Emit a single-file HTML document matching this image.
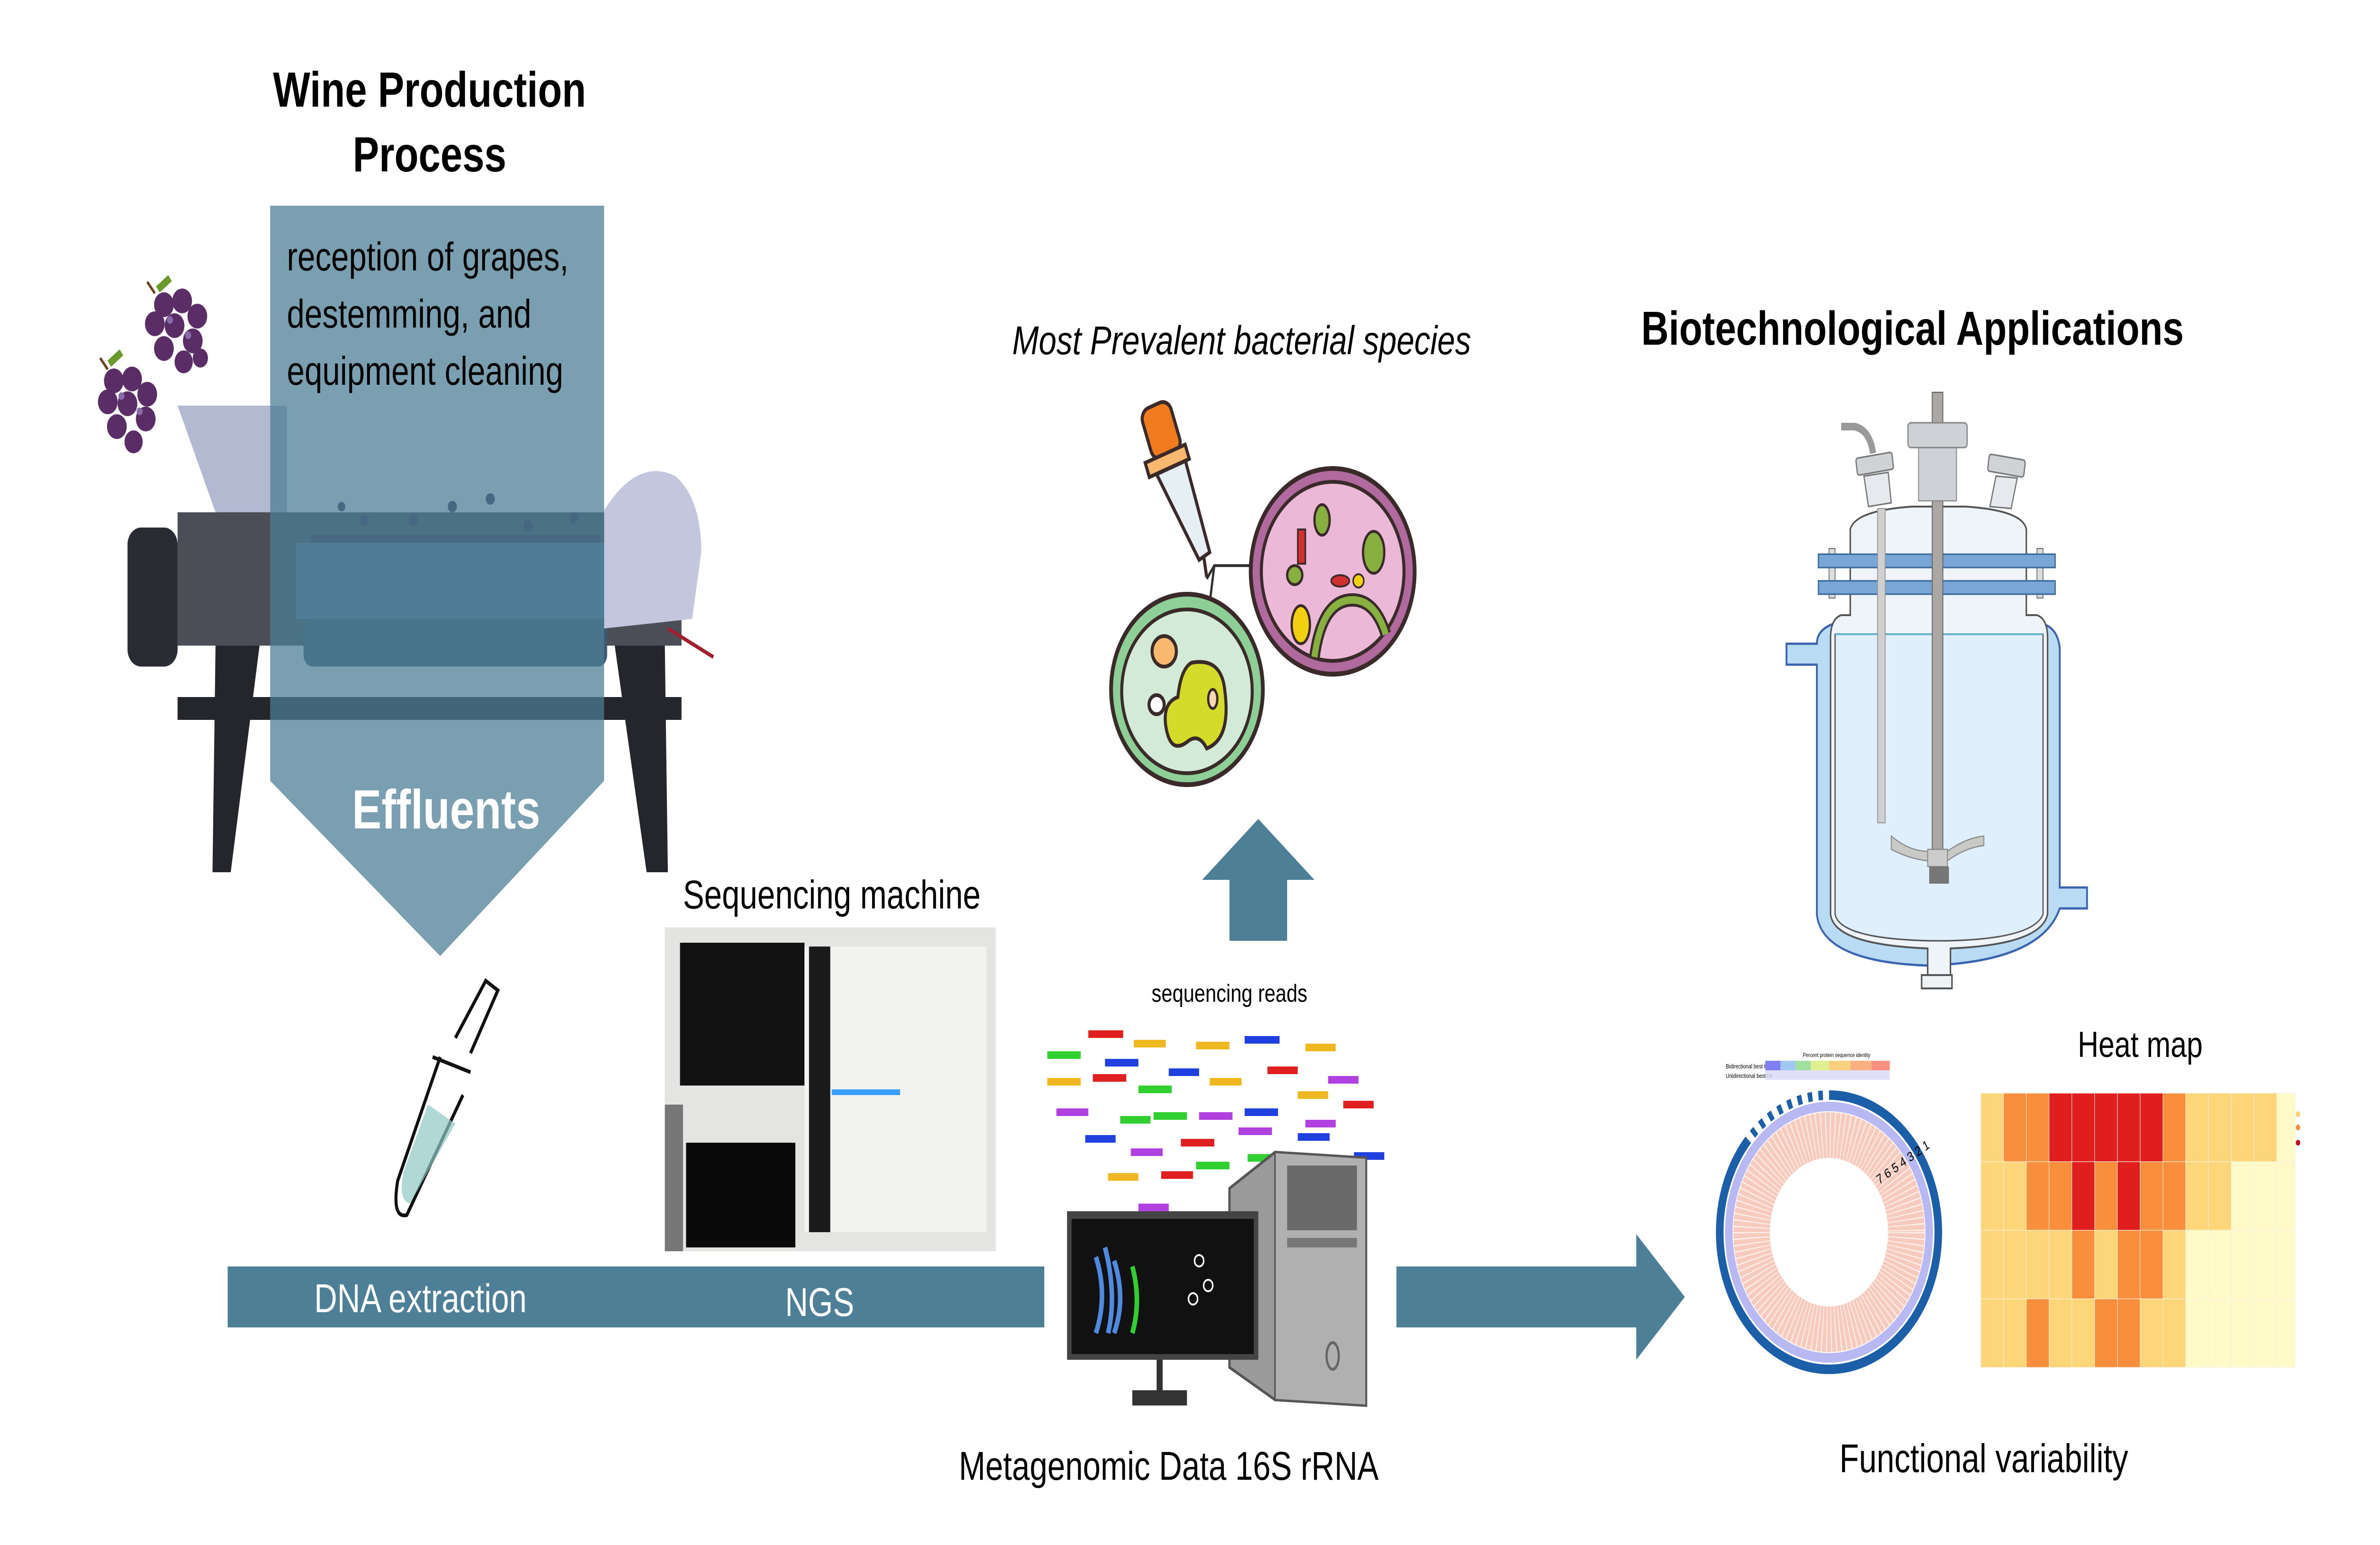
<!DOCTYPE html>
<html><head><meta charset="utf-8">
<style>
html,body{margin:0;padding:0;background:#fff;overflow:hidden;width:100%;height:100%;}
svg{display:block;position:absolute;left:0;top:0;width:100vw;height:100vh;}
text{font-family:"Liberation Sans",sans-serif;}
</style></head>
<body>
<svg viewBox="0 0 1568 811.25" preserveAspectRatio="none" xmlns="http://www.w3.org/2000/svg">
<rect width="1568" height="812" fill="#fff"/>

<!-- Wine press -->
<polygon points="117,213 189,213 189,269 142,269" fill="#b4b9d2"/>
<rect x="84" y="277" width="33" height="73" rx="9" fill="#2a2c33"/>
<rect x="117" y="269" width="332" height="70" fill="#4b4d57"/>
<rect x="195" y="285" width="205" height="40" fill="#5a7d99"/>
<rect x="200" y="325" width="200" height="25" rx="6" fill="#3e5a70"/>
<path d="M398,268 Q420,240 445,250 Q462,262 462,290 L456,325 L398,330 Z" fill="#c3c6dc"/>
<path d="M440,330 L470,345" stroke="#a02030" stroke-width="2"/>
<rect x="117" y="366" width="332" height="12" fill="#24262c"/>
<polygon points="142,339 171,339 152,458 140,458" fill="#24262c"/>
<polygon points="405,339 438,339 440,458 426,458" fill="#24262c"/>
<g fill="#3a2b50">
<circle cx="225" cy="266" r="2.5"/><circle cx="240" cy="273" r="3"/><circle cx="272" cy="273" r="3"/><circle cx="298" cy="266" r="3"/><circle cx="323" cy="262" r="3"/><circle cx="348" cy="276" r="3"/><circle cx="378" cy="272" r="3"/>
</g>
<rect x="205" y="281" width="190" height="4" fill="#3a2b50"/>

<!-- grapes -->
<g fill="#5b2d66">
<circle cx="108" cy="160" r="6.5"/><circle cx="120" cy="158" r="6.5"/><circle cx="130" cy="166" r="6.5"/><circle cx="102" cy="170" r="6.5"/><circle cx="115" cy="171" r="6.5"/><circle cx="127" cy="179" r="6.5"/><circle cx="108" cy="183" r="6.5"/><circle cx="121" cy="190" r="6"/><circle cx="132" cy="188" r="5"/>
<circle cx="75" cy="200" r="6.5"/><circle cx="87" cy="199" r="6.5"/><circle cx="97" cy="207" r="6.5"/><circle cx="71" cy="211" r="6.5"/><circle cx="84" cy="212" r="6.5"/><circle cx="96" cy="220" r="6.5"/><circle cx="77" cy="224" r="6.5"/><circle cx="88" cy="232" r="6"/>
</g>
<g fill="#8a6aa8"><circle cx="112" cy="168" r="2"/><circle cx="124" cy="176" r="2"/><circle cx="80" cy="208" r="2"/><circle cx="92" cy="216" r="2"/></g>
<path d="M104,152 l8,-6 M72,191 l8,-6" stroke="#6a9a2a" stroke-width="4"/>
<path d="M97,148 l5,6 M66,188 l5,6" stroke="#6a4020" stroke-width="1.5"/>

<!-- translucent arrow -->
<polygon points="178,108 398,108 398,410 290,502 178,410" fill="#4c7d96" fill-opacity="0.74"/>
<text x="283" y="56" font-size="26" font-weight="bold" text-anchor="middle">Wine Production</text>
<text x="283" y="90" font-size="26" font-weight="bold" text-anchor="middle">Process</text>
<text x="189" y="142" font-size="21">reception of grapes,</text>
<text x="189" y="172" font-size="21">destemming, and</text>
<text x="189" y="202" font-size="21">equipment cleaning</text>
<text x="294" y="435" font-size="29" font-weight="bold" fill="#fff" text-anchor="middle">Effluents</text>

<!-- tube -->
<g stroke="#111" stroke-width="2" fill="none">
<path d="M290,555 L262,620 Q258,640 268,638 L305,575"/>
<path d="M285,555 L310,563"/>
<path d="M300,545 L320,515 L328,520 L310,553"/>
</g>
<path d="M282,580 L300,590 L270,632 Q262,630 266,615Z" fill="#8fc8c2" opacity="0.7"/>

<!-- bottom bar -->
<rect x="150" y="665" width="538" height="32" fill="#4d7f96"/>
<text x="277" y="689" font-size="21" fill="#fff" text-anchor="middle">DNA extraction</text>
<text x="540" y="691" font-size="21" fill="#fff" text-anchor="middle">NGS</text>

<!-- sequencing machine -->
<text x="548" y="477" font-size="21" text-anchor="middle">Sequencing machine</text>
<rect x="438" y="487" width="218" height="170" fill="#e4e4e2"/>
<rect x="448" y="495" width="82" height="75" fill="#111"/>
<rect x="530" y="497" width="120" height="150" fill="#f2f2f0"/>
<rect x="533" y="497" width="14" height="150" fill="#1a1a1a"/>
<rect x="548" y="572" width="45" height="3" fill="#3aa0ff"/>
<rect x="452" y="600" width="72" height="55" fill="#0a0a0a"/>
<rect x="438" y="580" width="12" height="77" fill="#777"/>

<!-- sequencing reads -->
<text x="810" y="526" font-size="13" text-anchor="middle">sequencing reads</text>
<g stroke-width="4">
<line x1="717" y1="543" x2="740" y2="543" stroke="#e02020"/><line x1="747" y1="548" x2="768" y2="548" stroke="#f0b820"/><line x1="788" y1="549" x2="810" y2="549" stroke="#f0b820"/><line x1="820" y1="546" x2="843" y2="546" stroke="#2040e0"/><line x1="860" y1="550" x2="880" y2="550" stroke="#f0b820"/>
<line x1="690" y1="554" x2="712" y2="554" stroke="#30d030"/><line x1="728" y1="558" x2="750" y2="558" stroke="#2040e0"/><line x1="770" y1="563" x2="790" y2="563" stroke="#2040e0"/><line x1="835" y1="562" x2="855" y2="562" stroke="#e02020"/><line x1="875" y1="567" x2="895" y2="567" stroke="#b040e0"/>
<line x1="690" y1="568" x2="712" y2="568" stroke="#f0b820"/><line x1="720" y1="566" x2="742" y2="566" stroke="#e02020"/><line x1="750" y1="572" x2="772" y2="572" stroke="#30d030"/><line x1="797" y1="568" x2="818" y2="568" stroke="#f0b820"/><line x1="855" y1="575" x2="875" y2="575" stroke="#f0b820"/><line x1="885" y1="580" x2="905" y2="580" stroke="#e02020"/>
<line x1="696" y1="584" x2="717" y2="584" stroke="#b040e0"/><line x1="738" y1="588" x2="758" y2="588" stroke="#30d030"/><line x1="760" y1="586" x2="782" y2="586" stroke="#30d030"/><line x1="790" y1="586" x2="812" y2="586" stroke="#b040e0"/><line x1="820" y1="584" x2="842" y2="584" stroke="#2040e0"/><line x1="860" y1="590" x2="880" y2="590" stroke="#b040e0"/>
<line x1="715" y1="598" x2="735" y2="598" stroke="#2040e0"/><line x1="745" y1="605" x2="766" y2="605" stroke="#b040e0"/><line x1="778" y1="600" x2="800" y2="600" stroke="#e02020"/><line x1="816" y1="594" x2="838" y2="594" stroke="#b040e0"/><line x1="855" y1="597" x2="876" y2="597" stroke="#2040e0"/>
<line x1="788" y1="612" x2="810" y2="612" stroke="#30d030"/><line x1="822" y1="608" x2="844" y2="608" stroke="#30d030"/><line x1="860" y1="612" x2="882" y2="612" stroke="#30d030"/><line x1="892" y1="607" x2="912" y2="607" stroke="#2040e0"/>
<line x1="730" y1="618" x2="750" y2="618" stroke="#f0b820"/><line x1="765" y1="617" x2="786" y2="617" stroke="#e02020"/><line x1="818" y1="620" x2="840" y2="620" stroke="#e02020"/><line x1="750" y1="634" x2="770" y2="634" stroke="#b040e0"/>
</g>

<!-- computer -->
<polygon points="810,624 840,605 900,608 900,738 840,735 810,718" fill="#9a9a9a" stroke="#555" stroke-width="1.5"/>
<polygon points="840,605 900,608 900,738 840,735" fill="#b0b0b0" stroke="#555" stroke-width="1"/>
<rect x="848" y="612" width="46" height="34" fill="#6a6a6a"/>
<rect x="848" y="650" width="46" height="5" fill="#777"/>
<ellipse cx="878" cy="712" rx="4" ry="7" fill="none" stroke="#666" stroke-width="1.5"/>
<rect x="703" y="636" width="126" height="78" fill="#444"/>
<rect x="706" y="640" width="120" height="71" fill="#111"/>
<rect x="762" y="714" width="4" height="20" fill="#333"/>
<rect x="746" y="730" width="36" height="8" fill="#333"/>
<path d="M722,660 q8,20 0,40 M728,655 q8,25 2,45 M734,662 q8,20 0,38" stroke="#4f8ae0" stroke-width="3" fill="none"/>
<path d="M746,665 q6,18 0,35" stroke="#30d030" stroke-width="3" fill="none"/>
<circle cx="790" cy="662" r="3" stroke="#fff" fill="none"/><circle cx="796" cy="675" r="3" stroke="#fff" fill="none"/><circle cx="786" cy="682" r="3" stroke="#fff" fill="none"/>
<text x="770" y="777" font-size="21" text-anchor="middle">Metagenomic Data 16S rRNA</text>

<!-- right arrow -->
<rect x="920" y="665" width="160" height="32" fill="#4d7f96"/>
<polygon points="1078,648 1110,681 1078,714" fill="#4d7f96"/>

<!-- up arrow -->
<polygon points="829,430 866,462 848,462 848,494 810,494 810,462 792,462" fill="#4d7f96"/>

<!-- bacterial -->
<text x="818" y="186" font-size="21" font-style="italic" text-anchor="middle">Most Prevalent bacterial species</text>
<path d="M795,304 L800,297 L827,297" stroke="#333" stroke-width="1.5" fill="none"/>
<path d="M800,297 L790,362" stroke="#333" stroke-width="1.5"/>
<circle cx="878" cy="300" r="54" fill="#b06a9e" stroke="#3a2a2a" stroke-width="2.5"/>
<circle cx="878" cy="300" r="47" fill="#ebb8d8" stroke="#3a2a2a" stroke-width="2"/>
<path d="M866,345 q5,-30 25,-30 q15,0 22,18" stroke="#3a2a2a" stroke-width="7" fill="none"/>
<path d="M866,345 q5,-30 25,-30 q15,0 22,18" stroke="#88b040" stroke-width="4" fill="none"/>
<ellipse cx="871" cy="273" rx="5" ry="8" fill="#88b040" stroke="#3a2a2a" stroke-width="1.5"/>
<ellipse cx="905" cy="290" rx="7" ry="11" fill="#88b040" stroke="#3a2a2a" stroke-width="1.5"/>
<circle cx="853" cy="302" r="5" fill="#88b040" stroke="#3a2a2a" stroke-width="1.5"/>
<ellipse cx="857" cy="328" rx="6" ry="10" fill="#f0d010" stroke="#3a2a2a" stroke-width="1.5"/>
<rect x="855" y="278" width="5" height="18" fill="#d03030" stroke="#3a2a2a" stroke-width="1"/>
<ellipse cx="883" cy="305" rx="6" ry="3" fill="#d03030" stroke="#3a2a2a" stroke-width="1"/>
<circle cx="895" cy="305" r="3.5" fill="#f0d010" stroke="#3a2a2a" stroke-width="1"/>
<circle cx="782" cy="362" r="50" fill="#8ecf98" stroke="#3a2a2a" stroke-width="2.5"/>
<circle cx="782" cy="363" r="43" fill="#d3ead6" stroke="#3a2a2a" stroke-width="2"/>
<path d="M785,348 q20,-3 22,15 q4,25 -12,30 q-5,-8 -12,-4 q-12,8 -15,-8 q-2,-12 8,-15 q2,-15 9,-18Z" fill="#d4dc2a" stroke="#3a2a2a" stroke-width="2"/>
<circle cx="767" cy="342" r="8" fill="#f8b870" stroke="#3a2a2a" stroke-width="2"/>
<circle cx="762" cy="370" r="5" fill="#fff" stroke="#3a2a2a" stroke-width="2"/>
<ellipse cx="799" cy="367" rx="3" ry="5" fill="#f8d8b0" stroke="#3a2a2a" stroke-width="1.5"/>
<g stroke="#3a2a2a" stroke-width="2">
<rect x="755" y="212" width="20" height="28" rx="6" fill="#f07a1e" transform="rotate(-20 765 226)"/>
<rect x="755" y="238" width="28" height="8" fill="#f8b870" transform="rotate(-20 769 242)"/>
<polygon points="762,249 781,242 797,290 790,294" fill="#e6f0f4"/>
<line x1="793" y1="292" x2="795" y2="303"/>
</g>

<!-- bioreactor -->
<text x="1260" y="181" font-size="25" font-weight="bold" text-anchor="middle">Biotechnological Applications</text>
<path d="M1197,338 L1177,338 L1177,349 L1197,349 L1197,480 Q1200,505 1270,507 Q1345,505 1357,477 L1375,477 L1375,466 L1357,466 L1357,340 Q1355,327 1340,327 L1210,327 Q1197,330 1197,338Z" fill="#b9dbf3" stroke="#3a64b0" stroke-width="1.2"/>
<path d="M1219,323 L1219,278 Q1222,268 1260,266 L1295,266 Q1333,268 1335,278 L1335,323 L1342,323 Q1349,325 1349,335 L1349,480 Q1345,496 1285,498 L1285,512 L1270,512 L1270,498 Q1208,496 1206,480 L1206,335 Q1206,325 1213,323Z" fill="#eef4f8" stroke="#555" stroke-width="1"/>
<path d="M1209,333 L1346,333 L1346,480 Q1340,493 1283,494 L1272,494 Q1212,493 1209,480Z" fill="#dff0fc" stroke="#555" stroke-width="0.8"/>
<line x1="1209" y1="333" x2="1346" y2="333" stroke="#6ab0c8" stroke-width="1"/>
<rect x="1266" y="512" width="20" height="7" fill="#eef2f4" stroke="#555" stroke-width="1"/>
<rect x="1205" y="288" width="4" height="26" fill="#ddd" stroke="#777" stroke-width="0.6"/>
<rect x="1342" y="288" width="4" height="26" fill="#ddd" stroke="#777" stroke-width="0.6"/>
<rect x="1198" y="291" width="156" height="7" fill="#78a6d6" stroke="#3a6a9a" stroke-width="0.8"/>
<rect x="1198" y="305" width="156" height="7" fill="#78a6d6" stroke="#3a6a9a" stroke-width="0.8"/>
<rect x="1237" y="267" width="5" height="165" fill="#d0d0d0" stroke="#999" stroke-width="0.6"/>
<path d="M1213,224 L1222,224 Q1232,226 1234,238" stroke="#999" stroke-width="4" fill="none"/>
<polygon points="1228,250 1244,248 1246,264 1231,266" fill="#e6eaee" stroke="#777" stroke-width="0.8"/>
<rect x="1223" y="239" width="24" height="9" rx="1.5" fill="#d0d3d6" stroke="#777" stroke-width="0.8" transform="rotate(-8 1235 243)"/>
<polygon points="1315,250 1329,251 1325,267 1311,266" fill="#e6eaee" stroke="#777" stroke-width="0.8"/>
<rect x="1310" y="240" width="24" height="9" rx="1.5" fill="#d0d3d6" stroke="#777" stroke-width="0.8" transform="rotate(8 1322 244)"/>
<rect x="1273" y="206" width="7" height="242" fill="#aba7a5" stroke="#666" stroke-width="0.6"/>
<rect x="1264" y="235" width="25" height="28" fill="#ced2d6" stroke="#888" stroke-width="0.6"/>
<rect x="1257" y="222" width="39" height="13" rx="2" fill="#ced2d6" stroke="#888" stroke-width="0.8"/>
<path d="M1246,439 Q1258,447 1270,447 L1270,452 Q1258,451 1246,446Z M1283,447 Q1295,440 1307,439 L1307,444 Q1295,445 1283,452Z" fill="#c9c9c6" stroke="#888" stroke-width="0.6"/>
<rect x="1270" y="446" width="13" height="9" fill="#ccc" stroke="#888" stroke-width="0.6"/>
<rect x="1271" y="455" width="13" height="9" fill="#777"/>

<!-- circular plot -->
<rect x="1136" y="552" width="127" height="16" fill="#fff"/>
<text x="1210" y="555" font-size="3" text-anchor="middle" font-family="Liberation Serif">Percent protein sequence identity</text>
<text x="1137" y="561" font-size="3.2" font-family="Liberation Serif">Bidirectional best hit</text>
<text x="1137" y="566" font-size="3.2" font-family="Liberation Serif">Unidirectional best hit</text>
<g>
<rect x="1163" y="557" width="10" height="5" fill="#8080f0"/><rect x="1173" y="557" width="10" height="5" fill="#a0c8f0"/><rect x="1183" y="557" width="10" height="5" fill="#a0e0a0"/><rect x="1193" y="557" width="12" height="5" fill="#e0f090"/><rect x="1205" y="557" width="14" height="5" fill="#f8d080"/><rect x="1219" y="557" width="14" height="5" fill="#f8b080"/><rect x="1233" y="557" width="12" height="5" fill="#f89080"/>
<rect x="1163" y="562" width="82" height="5" fill="#d8d8f8" opacity="0.8"/>
</g>
<circle cx="1205" cy="647" r="72" fill="none" stroke="#1a5fa8" stroke-width="5"/>
<circle cx="1205" cy="647" r="66" fill="none" stroke="#b8b8f2" stroke-width="5"/>
<circle cx="1205" cy="647" r="51" fill="none" stroke="#f6cbbd" stroke-width="24"/>
<circle cx="1205" cy="647" r="51" fill="none" stroke="#fff" stroke-width="24" stroke-dasharray="0.6 2.2" opacity="0.7"/>
<circle cx="1205" cy="647" r="38" fill="#fff"/>
<path d="M1205,575 A72,72 0 0,0 1150,600" stroke="#fff" stroke-width="6" fill="none" stroke-dasharray="4 3"/>
<text x="1238" y="622" font-size="7" transform="rotate(-30 1238 622)">7 6 5 4 3 2 1</text>

<!-- heat map -->
<text x="1410" y="555" font-size="19" text-anchor="middle">Heat map</text>
<g stroke="#f4f0e0" stroke-width="0.3">
<!-- row1 -->
<rect x="1305" y="574" width="15" height="36" fill="#fdd67a"/><rect x="1320" y="574" width="15" height="36" fill="#f98e3c"/><rect x="1335" y="574" width="15" height="36" fill="#f98e3c"/><rect x="1350" y="574" width="15" height="36" fill="#e01e1e"/><rect x="1365" y="574" width="15" height="36" fill="#e01e1e"/><rect x="1380" y="574" width="15" height="36" fill="#e01e1e"/><rect x="1395" y="574" width="15" height="36" fill="#e01e1e"/><rect x="1410" y="574" width="15" height="36" fill="#e01e1e"/><rect x="1425" y="574" width="15" height="36" fill="#f98e3c"/><rect x="1440" y="574" width="15" height="36" fill="#fdd67a"/><rect x="1455" y="574" width="15" height="36" fill="#fdd67a"/><rect x="1470" y="574" width="15" height="36" fill="#fdd67a"/><rect x="1485" y="574" width="15" height="36" fill="#fdd67a"/><rect x="1500" y="574" width="12" height="36" fill="#fffac8"/>
<!-- row2 -->
<rect x="1305" y="610" width="15" height="36" fill="#fdd67a"/><rect x="1320" y="610" width="15" height="36" fill="#fdd67a"/><rect x="1335" y="610" width="15" height="36" fill="#f98e3c"/><rect x="1350" y="610" width="15" height="36" fill="#f98e3c"/><rect x="1365" y="610" width="15" height="36" fill="#e01e1e"/><rect x="1380" y="610" width="15" height="36" fill="#f98e3c"/><rect x="1395" y="610" width="15" height="36" fill="#e01e1e"/><rect x="1410" y="610" width="15" height="36" fill="#f98e3c"/><rect x="1425" y="610" width="15" height="36" fill="#f98e3c"/><rect x="1440" y="610" width="15" height="36" fill="#fdd67a"/><rect x="1455" y="610" width="15" height="36" fill="#fdd67a"/><rect x="1470" y="610" width="15" height="36" fill="#fffac8"/><rect x="1485" y="610" width="15" height="36" fill="#fffac8"/><rect x="1500" y="610" width="12" height="36" fill="#fffac8"/>
<!-- row3 -->
<rect x="1305" y="646" width="15" height="36" fill="#fdd67a"/><rect x="1320" y="646" width="15" height="36" fill="#fdd67a"/><rect x="1335" y="646" width="15" height="36" fill="#fdd67a"/><rect x="1350" y="646" width="15" height="36" fill="#fdd67a"/><rect x="1365" y="646" width="15" height="36" fill="#f98e3c"/><rect x="1380" y="646" width="15" height="36" fill="#fdd67a"/><rect x="1395" y="646" width="15" height="36" fill="#f98e3c"/><rect x="1410" y="646" width="15" height="36" fill="#f98e3c"/><rect x="1425" y="646" width="15" height="36" fill="#fdd67a"/><rect x="1440" y="646" width="15" height="36" fill="#fffac8"/><rect x="1455" y="646" width="15" height="36" fill="#fffac8"/><rect x="1470" y="646" width="15" height="36" fill="#fffac8"/><rect x="1485" y="646" width="15" height="36" fill="#fffac8"/><rect x="1500" y="646" width="12" height="36" fill="#fffac8"/>
<!-- row4 -->
<rect x="1305" y="682" width="15" height="36" fill="#fdd67a"/><rect x="1320" y="682" width="15" height="36" fill="#fdd67a"/><rect x="1335" y="682" width="15" height="36" fill="#f98e3c"/><rect x="1350" y="682" width="15" height="36" fill="#fdd67a"/><rect x="1365" y="682" width="15" height="36" fill="#fdd67a"/><rect x="1380" y="682" width="15" height="36" fill="#f98e3c"/><rect x="1395" y="682" width="15" height="36" fill="#f98e3c"/><rect x="1410" y="682" width="15" height="36" fill="#fdd67a"/><rect x="1425" y="682" width="15" height="36" fill="#fdd67a"/><rect x="1440" y="682" width="15" height="36" fill="#fffac8"/><rect x="1455" y="682" width="15" height="36" fill="#fffac8"/><rect x="1470" y="682" width="15" height="36" fill="#fffac8"/><rect x="1485" y="682" width="15" height="36" fill="#fffac8"/><rect x="1500" y="682" width="12" height="36" fill="#fffac8"/>
</g>
<circle cx="1514" cy="585" r="1.5" fill="#f8d070"/><circle cx="1514" cy="592" r="1.5" fill="#f09040"/><circle cx="1514" cy="600" r="1.5" fill="#c01020"/>
<text x="1307" y="773" font-size="21" text-anchor="middle">Functional variability</text>
</svg>
</body></html>
